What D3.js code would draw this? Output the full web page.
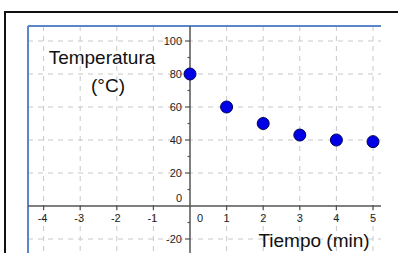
<!DOCTYPE html>
<html>
<head>
<meta charset="utf-8">
<script src="https://cdn.jsdelivr.net/npm/d3@7"></script>
<style>
  body { margin: 0; background: #fff; }
  svg { display: block; font-family: "Liberation Sans", Arial, sans-serif; }
</style>
</head>
<body>
<div id="svgContainer"></div>
<script>
const minutes = [0, 1, 2, 3, 4, 5];
const temps = [80, 60, 50, 43, 40, 39];
const xTicks = [-4, -3, -2, -1, 0, 1, 2, 3, 4, 5];
const yTicks = [-20, 0, 20, 40, 60, 80, 100];
const yMinor = [-10, 10, 30, 50, 70, 90];

const width = 398;
const height = 253;

const svg = d3.select("#svgContainer").append("svg")
    .attr("width", width)
    .attr("height", height);

// plot frame (GeoGebra-like)
const frameLeft = 28, frameRight = 381, frameTop = 26, frameBottom = 253;

const x = d3.scaleLinear().domain([0, 1]).range([190, 226.6]);
const y = d3.scaleLinear().domain([0, 20]).range([206, 173]);

// outer black border
svg.append("rect")
    .attr("x", 5).attr("y", 12)
    .attr("width", 420).attr("height", 260)
    .attr("fill", "none")
    .attr("stroke", "#111")
    .attr("stroke-width", 2);

const g = svg.append("g");

// grid
g.append("g")
    .selectAll("line")
    .data(xTicks.filter(d => d !== 0))
    .join("line")
    .attr("x1", d => x(d)).attr("x2", d => x(d))
    .attr("y1", frameTop).attr("y2", frameBottom)
    .attr("stroke", "#c8c8c8")
    .attr("stroke-dasharray", "5,5");

g.append("g")
    .selectAll("line")
    .data(yTicks.filter(d => d !== 0))
    .join("line")
    .attr("x1", frameLeft).attr("x2", frameRight)
    .attr("y1", d => y(d)).attr("y2", d => y(d))
    .attr("stroke", "#c8c8c8")
    .attr("stroke-dasharray", "5,5");

// blue frame
g.append("line")
    .attr("x1", frameLeft).attr("x2", frameRight)
    .attr("y1", frameTop).attr("y2", frameTop)
    .attr("stroke", "#5a86cc").attr("stroke-width", 2);
g.append("line")
    .attr("x1", frameLeft).attr("x2", frameLeft)
    .attr("y1", frameTop).attr("y2", frameBottom)
    .attr("stroke", "#5a86cc").attr("stroke-width", 2);

// axes
g.append("line")
    .attr("x1", frameLeft).attr("x2", frameRight)
    .attr("y1", y(0)).attr("y2", y(0))
    .attr("stroke", "#555").attr("stroke-width", 1.5);
g.append("line")
    .attr("x1", x(0)).attr("x2", x(0))
    .attr("y1", frameTop).attr("y2", frameBottom)
    .attr("stroke", "#555").attr("stroke-width", 1.5);

// x ticks
g.append("g")
    .selectAll("line")
    .data(xTicks.filter(d => d !== 0))
    .join("line")
    .attr("x1", d => x(d)).attr("x2", d => x(d))
    .attr("y1", y(0) - 1).attr("y2", y(0) + 4)
    .attr("stroke", "#555").attr("stroke-width", 1.2);

g.append("g")
    .selectAll("text")
    .data(xTicks)
    .join("text")
    .attr("x", d => d === 0 ? x(d) + 10 : x(d) + (d < 0 ? -1 : 0))
    .attr("y", 222)
    .attr("text-anchor", "middle")
    .attr("font-size", 11)
    .attr("fill", "#222")
    .text(d => d);

// y ticks
g.append("g")
    .selectAll("line")
    .data(yTicks.filter(d => d !== 0))
    .join("line")
    .attr("x1", x(0) - 5).attr("x2", x(0))
    .attr("y1", d => y(d)).attr("y2", d => y(d))
    .attr("stroke", "#555").attr("stroke-width", 1.2);

g.append("g")
    .selectAll("line")
    .data(yMinor)
    .join("line")
    .attr("x1", x(0) - 2.5).attr("x2", x(0))
    .attr("y1", d => y(d)).attr("y2", d => y(d))
    .attr("stroke", "#555").attr("stroke-width", 1.2);

g.append("g")
    .selectAll("text")
    .data(yTicks)
    .join("text")
    .attr("x", x(0) - 8)
    .attr("y", d => d === 0 ? y(0) - 4 : y(d) + 4)
    .attr("text-anchor", "end")
    .attr("font-size", 11)
    .attr("fill", "#222")
    .text(d => d);

// titles
g.append("text")
    .attr("x", 102).attr("y", 64)
    .attr("text-anchor", "middle")
    .attr("font-size", 19)
    .attr("fill", "#111")
    .text("Temperatura");
g.append("text")
    .attr("x", 108).attr("y", 92)
    .attr("text-anchor", "middle")
    .attr("font-size", 19)
    .attr("fill", "#111")
    .text("(°C)");
g.append("text")
    .attr("x", 314).attr("y", 247)
    .attr("text-anchor", "middle")
    .attr("font-size", 19)
    .attr("fill", "#111")
    .text("Tiempo (min)");

// points
g.append("g")
    .selectAll("circle")
    .data(minutes.map((m, i) => ({m, t: temps[i]})))
    .join("circle")
    .attr("cx", d => x(d.m))
    .attr("cy", d => y(d.t))
    .attr("r", 6)
    .attr("fill", "#0000e6")
    .attr("stroke", "#00005a")
    .attr("stroke-width", 1);
</script>
</body>
</html>
